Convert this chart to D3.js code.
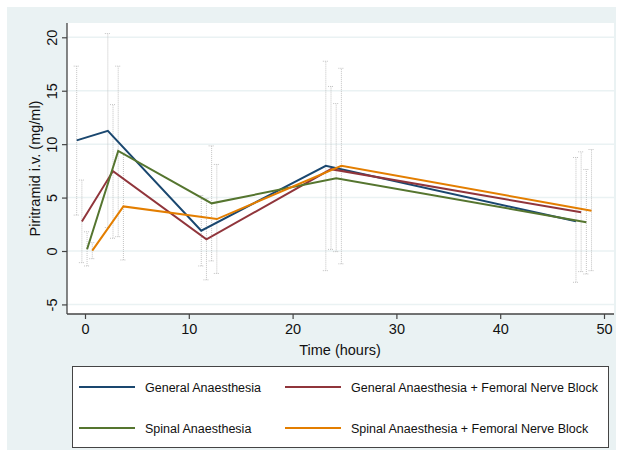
<!DOCTYPE html>
<html>
<head>
<meta charset="utf-8">
<script src="https://cdn.jsdelivr.net/npm/d3@7"></script>
<style>
  body { margin: 0; background: #fff; }
  text { font-family: "Liberation Sans", Arial, sans-serif; fill: #111; }
</style>
</head>
<body>
<svg id="chart" width="623" height="457"></svg>
<script>
// group names + colours (stata s2color)
const groups = ["General Anaesthesia", "General Anaesthesia + Femoral Nerve Block",
                "Spinal Anaesthesia", "Spinal Anaesthesia + Femoral Nerve Block"];
const colors = ["#1a476f", "#90353b", "#55752f", "#e37e00"];

// time points (hours), slightly offset per group
const timesGA     = [-0.8, 2.2, 11.2, 23.2, 47.3];
const timesGAFNB  = [-0.3, 2.7, 11.7, 23.7, 47.8];
const timesSA     = [0.2, 3.2, 12.2, 24.2, 48.3];
const timesSAFNB  = [0.7, 3.7, 12.7, 24.7, 48.8];

// means
const meanGA    = [10.35, 11.25, 1.9, 7.97, 2.78];
const meanGAFNB = [2.77, 7.48, 1.09, 7.66, 3.62];
const meanSA    = [0.16, 9.37, 4.46, 6.8, 2.7];
const meanSAFNB = [0.03, 4.17, 2.99, 7.97, 3.77];

// error bar bounds
const lowGA     = [3.36, 2.2, -1.4, -1.84, -2.93];
const highGA    = [17.3, 20.35, 5.2, 17.76, 8.75];
const lowGAFNB  = [-1.09, 1.19, -2.7, 0.15, -1.93];
const highGAFNB = [6.64, 13.7, 4.9, 15.4, 9.28];
const lowSA     = [-1.4, 1.34, -0.93, -0.06, -2.15];
const highSA    = [1.8, 17.3, 9.84, 13.8, 7.63];
const lowSAFNB  = [-0.72, -0.84, -2.1, -1.2, -1.84];
const highSAFNB = [0.78, 9.17, 8.1, 17.1, 9.5];

const xTicks = [0, 10, 20, 30, 40, 50];
const yTicks = [-5, 0, 5, 10, 15, 20];

const series = [
  {t: timesGA, m: meanGA, lo: lowGA, hi: highGA},
  {t: timesGAFNB, m: meanGAFNB, lo: lowGAFNB, hi: highGAFNB},
  {t: timesSA, m: meanSA, lo: lowSA, hi: highSA},
  {t: timesSAFNB, m: meanSAFNB, lo: lowSAFNB, hi: highSAFNB}
];

const svg = d3.select("#chart");
const plot = {left: 67, right: 614, top: 23, bottom: 314};
const font = "Liberation Sans, Arial, sans-serif";

// outer graph region
svg.append("rect").attr("x", 7).attr("y", 7).attr("width", 609).attr("height", 443)
  .attr("fill", "#eaf2f3");
svg.append("rect").attr("x", plot.left).attr("y", plot.top)
  .attr("width", plot.right - plot.left).attr("height", plot.bottom - plot.top)
  .attr("fill", "#fff");

const x = d3.scaleLinear().domain([0, 50]).range([85, 604]);
const y = d3.scaleLinear().domain([0, 20]).range([251, 37.3]);

// gridlines
svg.append("g").selectAll("line").data(yTicks).join("line")
  .attr("x1", plot.left).attr("x2", plot.right)
  .attr("y1", d => y(d)).attr("y2", d => y(d))
  .attr("stroke", "#eaf2f3").attr("stroke-width", 1.5);

// error bars
const bars = svg.append("g");
series.forEach(s => {
  s.t.forEach((t, i) => {
    const g = bars.append("g").attr("stroke", "#c2c2c2").attr("stroke-width", 1)
      .attr("stroke-dasharray", "1,1");
    g.append("line").attr("x1", x(t)).attr("x2", x(t)).attr("y1", y(s.lo[i])).attr("y2", y(s.hi[i]));
    [s.lo[i], s.hi[i]].forEach(v => {
      g.append("line").attr("x1", x(t) - 3).attr("x2", x(t) + 3).attr("y1", y(v)).attr("y2", y(v));
    });
  });
});

// lines
const line = d3.line().x(d => x(d[0])).y(d => y(d[1]));
series.forEach((s, k) => {
  svg.append("path").datum(d3.zip(s.t, s.m)).attr("d", line)
    .attr("fill", "none").attr("stroke", colors[k]).attr("stroke-width", 2)
    .attr("stroke-linejoin", "miter");
});

// axes
const xAxis = svg.append("g").attr("transform", `translate(0,${plot.bottom})`)
  .call(d3.axisBottom(x).tickValues(xTicks).tickFormat(d => String(d)).tickSize(5).tickPadding(5));
xAxis.select(".domain").attr("d", `M${plot.left},0H${plot.right}`);
const yAxis = svg.append("g").attr("transform", `translate(${plot.left},0)`)
  .call(d3.axisLeft(y).tickValues(yTicks).tickFormat(d => String(d)).tickSize(5).tickPadding(0));
yAxis.select(".domain").attr("d", `M0,${plot.top}V${plot.bottom}`);
svg.selectAll(".domain").attr("stroke", "#444").attr("stroke-width", 1.3);
svg.selectAll(".tick line").attr("stroke", "#444").attr("stroke-width", 1.2);
xAxis.selectAll("text").attr("font-size", 14.5).attr("font-family", font).attr("fill", "#111");
yAxis.selectAll("text").attr("font-size", 14.5).attr("font-family", font).attr("fill", "#111")
  .attr("text-anchor", "middle").attr("x", 0).attr("dy", 0)
  .attr("transform", "translate(-10,0) rotate(-90)");

svg.append("text").attr("x", 340).attr("y", 355).attr("text-anchor", "middle")
  .attr("font-size", 14.5).text("Time (hours)");
svg.append("text").attr("transform", `translate(40,${(plot.top + plot.bottom) / 2}) rotate(-90)`)
  .attr("text-anchor", "middle").attr("font-size", 14.5).text("Piritramid i.v. (mg/ml)");

// legend
const leg = svg.append("g");
leg.append("rect").attr("x", 72.5).attr("y", 366.5).attr("width", 536).attr("height", 81)
  .attr("fill", "#fff").attr("stroke", "#444").attr("stroke-width", 1);
const legPos = [[79, 387], [285, 387], [79, 428], [285, 428]];
groups.forEach((gname, k) => {
  const [lx, ly] = legPos[k];
  leg.append("line").attr("x1", lx).attr("x2", lx + 56).attr("y1", ly).attr("y2", ly)
    .attr("stroke", colors[k]).attr("stroke-width", 2);
  leg.append("text").attr("x", lx + 66).attr("y", ly + 4.5).attr("font-size", 12.5).text(gname);
});
</script>
</body>
</html>
